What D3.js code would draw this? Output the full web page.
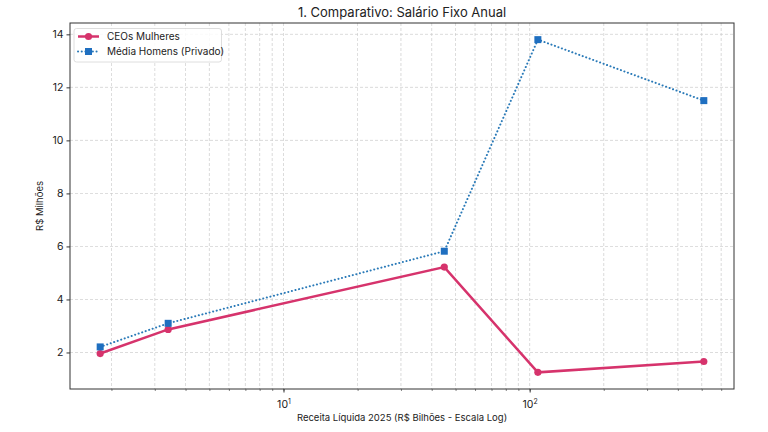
<!DOCTYPE html>
<html><head><meta charset="utf-8">
<script src="https://cdn.jsdelivr.net/npm/d3@7"></script>
<style>body{margin:0;background:#fff}svg{display:block}text{font-family:Inter,"DejaVu Sans",sans-serif;fill:#222}</style>
</head><body><svg id="c" width="768" height="432"></svg>
<script>
const revenue = [1.8, 3.4, 45, 108, 510];
const ceosMulheres = [1.96, 2.87, 5.22, 1.25, 1.66];
const mediaHomens = [2.21, 3.1, 5.82, 13.8, 11.5];
const yTicks = [2, 4, 6, 8, 10, 12, 14];
const xMajorTicks = [10, 100];
const xMajorLabels = ["1", "2"];
const seriesNames = ["CEOs Mulheres", "Média Homens (Privado)"];
const title = "1. Comparativo: Salário Fixo Anual";
const xLabel = "Receita Líquida 2025 (R$ Bilhões - Escala Log)";
const yLabel = "R$ Milhões";

const svg = d3.select("#c");
const L = 70, R = 734, T = 23, B = 389;
const pinkC = "#d6336c", blueC = "#1f6fc0", blueLine = "#2a7ab8";

// domains with 5% margins as matplotlib
const lx = revenue.map(Math.log10);
const lmin = d3.min(lx), lmax = d3.max(lx), lm = (lmax - lmin) * 0.05;
const x = d3.scaleLog().domain([Math.pow(10, lmin - lm), Math.pow(10, lmax + lm)]).range([L, R]);
const allY = ceosMulheres.concat(mediaHomens);
const ymin = d3.min(allY), ymax = d3.max(allY), ym = (ymax - ymin) * 0.05;
const y = d3.scaleLinear().domain([ymin - ym, ymax + ym]).range([B, T]);

// minor ticks
const [d0, d1] = x.domain();
const minor = [];
for (let e = Math.floor(Math.log10(d0)); e <= Math.ceil(Math.log10(d1)); e++) {
  for (let m = 1; m < 10; m++) { const v = m * Math.pow(10, e); if (v >= d0 && v <= d1) minor.push(v); }
}

const grid = svg.append("g");
grid.selectAll("line.vx").data(minor).join("line")
  .attr("x1", d => x(d)).attr("x2", d => x(d)).attr("y1", T).attr("y2", B)
  .attr("stroke", "#c8c8c8").attr("stroke-width", 0.8).attr("stroke-dasharray", "3,2").attr("opacity", 0.8);
grid.selectAll("line.hy").data(yTicks).join("line")
  .attr("x1", L).attr("x2", R).attr("y1", d => y(d)).attr("y2", d => y(d))
  .attr("stroke", "#c8c8c8").attr("stroke-width", 0.8).attr("stroke-dasharray", "3,2").attr("opacity", 0.8);

// axes
const yAxis = d3.axisLeft(y).tickValues(yTicks).tickSize(3.5).tickPadding(3);
const gy = svg.append("g").attr("transform", `translate(${L},0)`).call(yAxis);
gy.select(".domain").remove();
gy.selectAll("text").style("font-size", "10.5px").attr("fill", "#222");
gy.selectAll("line").attr("stroke", "#333");

const xAxisMinor = d3.axisBottom(x).tickValues(minor).tickSize(2).tickFormat("");
const gxm = svg.append("g").attr("transform", `translate(0,${B})`).call(xAxisMinor);
gxm.select(".domain").remove();
gxm.selectAll("line").attr("stroke", "#333").attr("stroke-width", 0.6);

const xAxis = d3.axisBottom(x).tickValues(xMajorTicks).tickSize(3.5).tickFormat("");
const gx = svg.append("g").attr("transform", `translate(0,${B})`).call(xAxis);
gx.select(".domain").remove();
gx.selectAll("line").attr("stroke", "#333");
gx.selectAll(".tick").each(function(d, i) {
  const t = d3.select(this).append("text").attr("y", 19).attr("text-anchor", "middle").style("font-size", "10.5px").attr("fill", "#222");
  t.append("tspan").text("10");
  t.append("tspan").attr("dy", -4).style("font-size", "7px").text(xMajorLabels[i]);
});

// frame
svg.append("rect").attr("x", L).attr("y", T).attr("width", R - L).attr("height", B - T)
  .attr("fill", "none").attr("stroke", "#333").attr("stroke-width", 1);

// lines
const line = (vals) => d3.line().x((d, i) => x(revenue[i])).y(d => y(d))(vals);
svg.append("path").attr("d", line(mediaHomens)).attr("fill", "none").attr("stroke", blueLine)
  .attr("stroke-width", 2).attr("stroke-dasharray", "0.1,3.6").attr("stroke-linecap", "round");
svg.append("path").attr("d", line(ceosMulheres)).attr("fill", "none").attr("stroke", pinkC).attr("stroke-width", 2.5);
svg.selectAll("circle.w").data(ceosMulheres).join("circle")
  .attr("cx", (d, i) => x(revenue[i])).attr("cy", d => y(d)).attr("r", 3.6).attr("fill", pinkC);
svg.selectAll("rect.m").data(mediaHomens).join("rect")
  .attr("x", (d, i) => x(revenue[i]) - 3.5).attr("y", d => y(d) - 3.5).attr("width", 7).attr("height", 7).attr("fill", blueC);

// legend
const lg = svg.append("g");
lg.append("rect").attr("x", 74).attr("y", 28.5).attr("width", 147.5).attr("height", 33.5).attr("rx", 2.5)
  .attr("fill", "#fff").attr("fill-opacity", 0.85).attr("stroke", "#d5d5d5").attr("stroke-width", 0.8);
lg.append("line").attr("x1", 78).attr("x2", 99).attr("y1", 36.5).attr("y2", 36.5).attr("stroke", pinkC).attr("stroke-width", 2.5);
lg.append("circle").attr("cx", 88.5).attr("cy", 36.5).attr("r", 3.6).attr("fill", pinkC);
lg.append("line").attr("x1", 78).attr("x2", 99).attr("y1", 51.5).attr("y2", 51.5).attr("stroke", blueLine)
  .attr("stroke-width", 2).attr("stroke-dasharray", "0.1,3.6").attr("stroke-linecap", "round");
lg.append("rect").attr("x", 85).attr("y", 48).attr("width", 7).attr("height", 7).attr("fill", blueC);
lg.append("text").attr("x", 107).attr("y", 40).style("font-size", "10px").text(seriesNames[0]);
lg.append("text").attr("x", 107).attr("y", 55).style("font-size", "10px").text(seriesNames[1]);

// titles
svg.append("text").attr("x", (L + R) / 2).attr("y", 17).attr("text-anchor", "middle").style("font-size", "13px").text(title);
svg.append("text").attr("x", (L + R) / 2).attr("y", 421).attr("text-anchor", "middle").style("font-size", "9.5px").text(xLabel);
svg.append("text").attr("transform", `translate(43,${(T + B) / 2}) rotate(-90)`).attr("text-anchor", "middle").style("font-size", "9.5px").text(yLabel);
</script></body></html>
